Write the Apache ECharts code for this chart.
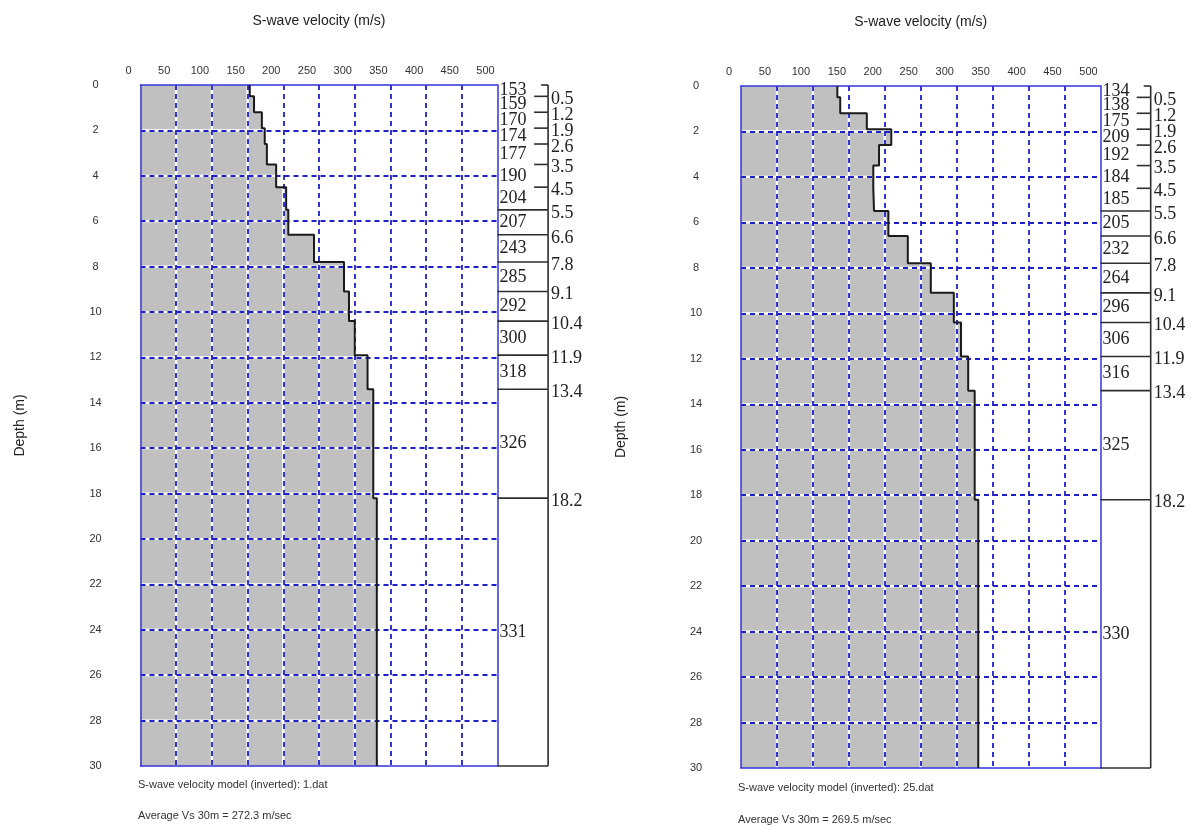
<!DOCTYPE html>
<html>
<head>
<meta charset="utf-8">
<script src="https://cdn.jsdelivr.net/npm/echarts@6/dist/echarts.min.js"></script>
<style>
html,body{margin:0;padding:0;background:#ffffff;}
#c{width:1195px;height:828px;}
</style>
</head>
<body>
<div id="c"></div>
<script>
// ---------- data ----------
const layerBounds = [0, 0.5, 1.2, 1.9, 2.6, 3.5, 4.5, 5.5, 6.6, 7.8, 9.1, 10.4, 11.9, 13.4, 18.2, 30];
const leftVs  = [153, 159, 170, 174, 177, 190, 204, 207, 243, 285, 292, 300, 318, 326, 331];
const rightVs = [134, 138, 175, 209, 192, 184, 185, 205, 232, 264, 296, 306, 316, 325, 330];
const velocityTicks = [0, 50, 100, 150, 200, 250, 300, 350, 400, 450, 500];
const depthTicks = [0, 2, 4, 6, 8, 10, 12, 14, 16, 18, 20, 22, 24, 26, 28, 30];
const xTitle = 'S-wave velocity (m/s)';
const yTitle = 'Depth (m)';
const leftModelText = 'S-wave velocity model (inverted): 1.dat';
const leftAvgText = 'Average Vs 30m = 272.3 m/sec';
const rightModelText = 'S-wave velocity model (inverted): 25.dat';
const rightAvgText = 'Average Vs 30m = 269.5 m/sec';

// ---------- style ----------
const SANS = '"Liberation Sans", Arial, sans-serif';
const SERIF = '"Liberation Serif", "Times New Roman", serif';
const GRID_BLUE = '#1f1fcc';
const BORDER_BLUE = '#3535dc';
const GRAY = '#c0c0c0';
const INK = '#2e2e2e';
const FULL_LINE_FROM = 5.5;
const GRID_W = 1.8;
const UNDER_W = 2.2;

const panels = [
  { vs: leftVs,  plot: { left: 140.5, top: 85, width: 357, height: 681 }, colWidth: 50.6,
    model: leftModelText, avg: leftAvgText, noteX: 138, noteY: [785, 816.5] },
  { vs: rightVs, plot: { left: 741, top: 86, width: 359.5, height: 682 }, colWidth: 50.2,
    model: rightModelText, avg: rightAvgText, noteX: 738, noteY: [788, 820] }
];

function layersOf(vs) {
  return vs.map((v, i) => [layerBounds[i], layerBounds[i + 1], v]);
}
function profilePoints(vs) {
  const pts = [];
  vs.forEach((v, i) => { pts.push([v, layerBounds[i]]); pts.push([v, layerBounds[i + 1]]); });
  return pts;
}

const grid = [], xAxis = [], yAxis = [], series = [], graphic = [];

panels.forEach((p, k) => {
  const g = 2 * k;
  grid.push({ left: p.plot.left, top: p.plot.top, width: p.plot.width, height: p.plot.height, containLabel: false });
  grid.push({ left: p.plot.left + p.plot.width, top: p.plot.top, width: p.colWidth, height: p.plot.height, containLabel: false });
  const a = 3 * k;
  const vMin = velocityTicks[0], vMax = velocityTicks[velocityTicks.length - 1];
  const vInt = velocityTicks[1] - velocityTicks[0];
  const dMin = depthTicks[0], dMax = depthTicks[depthTicks.length - 1];
  const dInt = depthTicks[1] - depthTicks[0];

  xAxis.push({
    gridIndex: g, type: 'value', position: 'top', min: vMin, max: vMax, interval: vInt, z: 3,
    name: xTitle, nameLocation: 'middle', nameGap: 57,
    nameTextStyle: { fontFamily: SANS, fontSize: 14, color: '#222' },
    axisLine: { show: true, onZero: false, lineStyle: { color: BORDER_BLUE, width: 1.5 } },
    axisTick: { show: false },
    axisLabel: { margin: 9, fontFamily: SANS, fontSize: 11, color: '#333', padding: [0, 24, 0, 0] },
    splitLine: { show: false }
  });
  xAxis.push({
    gridIndex: g, type: 'value', position: 'bottom', min: vMin, max: vMax, interval: vInt, z: 3,
    axisLine: { show: true, onZero: false, lineStyle: { color: BORDER_BLUE, width: 1.5 } },
    axisTick: { show: false }, axisLabel: { show: false },
    splitLine: { show: true, showMinLine: false, showMaxLine: false, lineStyle: { color: GRID_BLUE, width: GRID_W, type: [5, 4] } }
  });
  xAxis.push({ gridIndex: g + 1, type: 'value', min: 0, max: 1, show: false });

  yAxis.push({
    gridIndex: g, type: 'value', position: 'left', inverse: true, min: dMin, max: dMax, interval: dInt, z: 3,
    name: yTitle, nameLocation: 'middle', nameGap: 113, nameRotate: 90,
    nameTextStyle: { fontFamily: SANS, fontSize: 14, color: '#222' },
    axisLine: { show: true, onZero: false, lineStyle: { color: BORDER_BLUE, width: 1.5 } },
    axisTick: { show: false },
    axisLabel: { margin: 45, align: 'center', fontFamily: SANS, fontSize: 11, color: '#333', padding: [0, 0, 7, 0] },
    splitLine: { show: false }
  });
  yAxis.push({
    gridIndex: g, type: 'value', position: 'right', inverse: true, min: dMin, max: dMax, interval: dInt, z: 3,
    axisLine: { show: true, onZero: false, lineStyle: { color: BORDER_BLUE, width: 1.5 } },
    axisTick: { show: false }, axisLabel: { show: false },
    splitLine: { show: true, showMinLine: false, showMaxLine: false, lineStyle: { color: GRID_BLUE, width: GRID_W, type: [5, 4] } }
  });
  yAxis.push({ gridIndex: g + 1, type: 'value', inverse: true, min: dMin, max: dMax, show: false });

  const layers = layersOf(p.vs);

  // gray filled velocity area
  series.push({
    type: 'custom', xAxisIndex: a, yAxisIndex: a, z: 1, silent: true, clip: false,
    data: [[0, 0]],
    renderItem: function (params, api) {
      const pts = [api.coord([0, layerBounds[0]])];
      layers.forEach(l => { pts.push(api.coord([l[2], l[0]])); pts.push(api.coord([l[2], l[1]])); });
      pts.push(api.coord([0, layerBounds[layerBounds.length - 1]]));
      return { type: 'polygon', shape: { points: pts }, style: { fill: GRAY } };
    }
  });

  // white under-strokes of the grid lines (seen between the blue dashes)
  series.push({
    type: 'custom', xAxisIndex: a, yAxisIndex: a, z: 2, silent: true, clip: false,
    data: [[0, 0]],
    renderItem: function (params, api) {
      const ch = [];
      velocityTicks.slice(1, -1).forEach(v => {
        const t = api.coord([v, dMin]), b = api.coord([v, dMax]);
        ch.push({ type: 'rect', shape: { x: t[0] - UNDER_W / 2, y: t[1], width: UNDER_W, height: b[1] - t[1] },
          style: { fill: '#ffffff' } });
      });
      depthTicks.slice(1, -1).forEach(d => {
        const l = api.coord([vMin, d]), r = api.coord([vMax, d]);
        ch.push({ type: 'rect', shape: { x: l[0], y: l[1] - UNDER_W / 2, width: r[0] - l[0], height: UNDER_W },
          style: { fill: '#ffffff' } });
      });
      return { type: 'group', children: ch };
    }
  });

  // profile outline
  series.push({
    type: 'line', xAxisIndex: a, yAxisIndex: a, z: 5, silent: true,
    data: profilePoints(p.vs), symbol: 'none',
    lineStyle: { color: '#1a1a1a', width: 2 }
  });

  // layer column
  series.push({
    type: 'custom', xAxisIndex: a + 2, yAxisIndex: a + 2, z: 6, silent: true, clip: false,
    data: layers,
    renderItem: function (params, api) {
      const top = api.value(0), bot = api.value(1), v = api.value(2);
      const pT = api.coord([0, top]), pB = api.coord([0, bot]);
      const x0 = pT[0], x1 = api.coord([1, top])[0];
      const ls = { stroke: INK, lineWidth: 1.6 };
      const ch = [];
      ch.push({ type: 'line', shape: { x1: x1, y1: pT[1], x2: x1, y2: pB[1] }, style: ls });
      if (params.dataIndex === 0) {
        ch.push({ type: 'line', shape: { x1: x1 - 7, y1: pT[1], x2: x1, y2: pT[1] }, style: ls });
      }
      const full = bot >= FULL_LINE_FROM;
      ch.push({ type: 'line', shape: { x1: full ? x0 : x1 - 14, y1: pB[1], x2: x1, y2: pB[1] }, style: ls });
      ch.push({ type: 'text', x: x0 + 2, y: (pT[1] + pB[1]) / 2,
        style: { text: String(v), fontFamily: SERIF, fontSize: 18, fill: '#222', align: 'left', verticalAlign: 'middle' } });
      if (params.dataIndex < layers.length - 1) {
        ch.push({ type: 'text', x: x1 + 3, y: pB[1] + 3,
          style: { text: bot.toFixed(1), fontFamily: SERIF, fontSize: 18, fill: '#222', align: 'left', verticalAlign: 'middle' } });
      }
      return { type: 'group', children: ch };
    }
  });

  graphic.push({ type: 'text', left: p.noteX, top: p.noteY[0] - 6,
    style: { text: p.model, fontFamily: SANS, fontSize: 11, fill: '#333' } });
  graphic.push({ type: 'text', left: p.noteX, top: p.noteY[1] - 6,
    style: { text: p.avg, fontFamily: SANS, fontSize: 11, fill: '#333' } });
});

const chart = echarts.init(document.getElementById('c'), null, { renderer: 'canvas' });
chart.setOption({
  backgroundColor: '#ffffff',
  animation: false,
  grid: grid, xAxis: xAxis, yAxis: yAxis, series: series, graphic: graphic
});
</script>
</body>
</html>
